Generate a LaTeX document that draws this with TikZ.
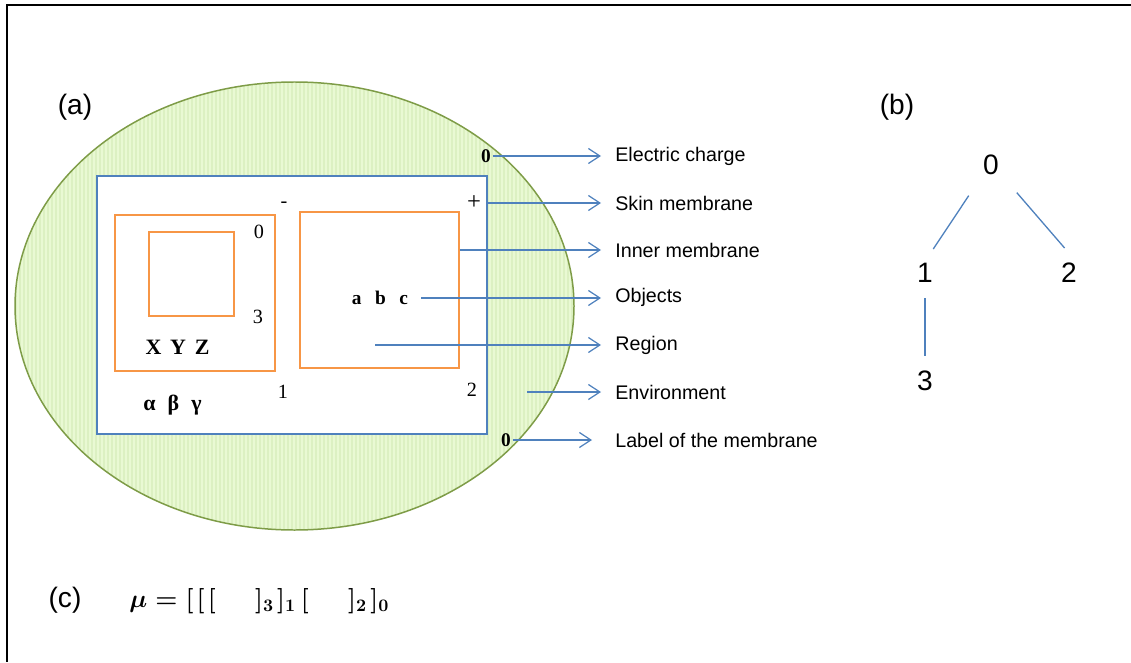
\documentclass[tikz,border=0pt]{standalone}
\usepackage{fontspec}
\setmainfont{Liberation Serif}
\setsansfont{Liberation Sans}
\usetikzlibrary{arrows.meta,positioning}
\definecolor{psBlue}{HTML}{4F81BD}
\definecolor{psOrange}{HTML}{F79646}
\definecolor{psOlive}{HTML}{7E9C47}
\definecolor{psGreen}{HTML}{E9F9D3}
\definecolor{psStripe}{HTML}{DCF0C2}
\tikzset{
  >={Straight Barb[length=2.3mm,width=3mm]},
  skin/.style={draw=psBlue, line width=0.85pt, fill=white, inner sep=0pt},
  memb/.style={draw=psOrange, line width=0.85pt, inner sep=0pt},
  num/.style={font=\fontsize{11.5}{13}\selectfont, inner sep=1pt},
  bnum/.style={font=\fontsize{11}{13}\selectfont\bfseries, inner sep=1pt},
  obj/.style={font=\fontsize{12.5}{14}\selectfont\bfseries, inner sep=1pt},
  lbl/.style={font=\sffamily\fontsize{11.2}{13}\selectfont, anchor=west,
              inner xsep=0.28cm, inner ysep=1pt},
  tag/.style={font=\sffamily\fontsize{16}{19}\selectfont, inner sep=1pt},
  tnode/.style={circle, font=\sffamily\fontsize{16}{19}\selectfont,
              minimum size=1.0cm, inner sep=0pt},
  flow/.style={->, draw=psBlue, line width=0.7pt},
  tree/.style={draw=psBlue, line width=0.75pt},
}
\begin{document}
\begin{tikzpicture}[x=0.02cm,y=-0.02cm]
        \useasboundingbox (0,0) rectangle (1131,662);
        % frame (top and left only)
        \draw[line width=0.9pt] (1131,5) -- (7,5) -- (7,662);
        % environment: striped green ellipse
        \fill[psGreen] (294.5,306) ellipse [x radius=279.5, y radius=224];
        \begin{scope}
          \clip (294.5,306) ellipse [x radius=279.5, y radius=224];
          \foreach \x in {16,20,...,572}{
            \draw[psStripe, line width=0.6pt] (\x,80) -- (\x,532);}
        \end{scope}
        \draw[psOlive, line width=0.85pt] (294.5,306) ellipse [x radius=279.5, y radius=224];
        % membranes
        \node[skin,minimum width=7.8cm,minimum height=5.16cm] (skin) at (292,305){};
        \node[memb,minimum width=3.2cm,minimum height=3.12cm] (m1) at (195,293){};
        \node[memb,minimum width=1.7cm,minimum height=1.68cm] (m3) at (191.5,274){};
        \node[memb,minimum width=3.18cm,minimum height=3.12cm] (m2) at (379.5,290){};
        % labels, charges and objects
        \node[num] (n0) at (259,232){0};
        \node[num] (n3) at (258,317){3};
        \node[num] (n1) at (283,392){1};
        \node[num] (n2) at (472,390){2};
        \node[num] (neg) at (284,205){-};
        \node[num,font=\fontsize{14}{16}\selectfont] (pos) at (474,203){+};
        \node[obj] (xyz) at (177.5,347){X\hspace{0.4em}Y\hspace{0.4em}Z};
        \node[obj] (abg) at (172.5,405){α\hspace{0.55em}β\hspace{0.55em}γ};
        \node[obj,font=\fontsize{11}{13}\selectfont\bfseries,inner xsep=0.26cm] (abc) at (380,298){a\hspace{0.7em}b\hspace{0.7em}c};
        \node[bnum] (q0) at (486,156){0};
        \node[bnum] (q1) at (506,440){0};
        \coordinate (reg) at (375,345);
        \coordinate (env) at (527,392);
        % captions on the right
        \node[lbl] (lc) at (601,156){Electric charge};
        \node[lbl] (ls) at (601,203){Skin membrane};
        \node[lbl] (li) at (601,250){Inner membrane};
        \node[lbl] (lo) at (601,297){Objects};
        \node[lbl] (lr) at (601,345){Region};
        \node[lbl] (le) at (601,392){Environment};
        \node[lbl] (ll) at (601,440){Label of the membrane};
        \draw[flow] (q0.east) -- (lc.west);
        \draw[flow] (skin.east |- ls.west) -- (ls.west);
        \draw[flow] (m2.east |- li.west) -- (li.west);
        \draw[flow] (abc.east) -- (abc.east -| lo.west);
        \draw[flow] (reg) -- (reg -| lr.west);
        \draw[flow] (env) -- (env -| le.west);
        \draw[flow,shorten >=0.18cm] (q1.east) -- (q1.east -| ll.west);
        % part tags
        \node[tag] (ta) at (75,107){(a)};
        \node[tag] (tb) at (897,107){(b)};
        \node[tag] (tc) at (65,600){(c)};
        \node[anchor=west,inner sep=0pt,font=\fontsize{14}{17}\selectfont\boldmath] (mu) at (129,601)
          {$\mu \mathrel{=} [\mkern2mu[\mkern2mu[\hspace{1.6em}]_3\mkern2mu]_1\mkern3mu[\hspace{1.6em}]_2\mkern2mu]_0$};
        % membrane tree
        \node[tnode,minimum size=1.5cm] (t0) at (991,165){0};
        \node[tnode] (t1) at (925,273){1};
        \node[tnode] (t2) at (1069,273){2};
        \node[tnode] (t3) at (925,381){3};
        \draw[tree] (t0.234) -- (t1.71);
        \draw[tree] (t0.313) -- (t2.100);
        \draw[tree] (t1.270) -- (t3.90);
\end{tikzpicture}
\end{document}
